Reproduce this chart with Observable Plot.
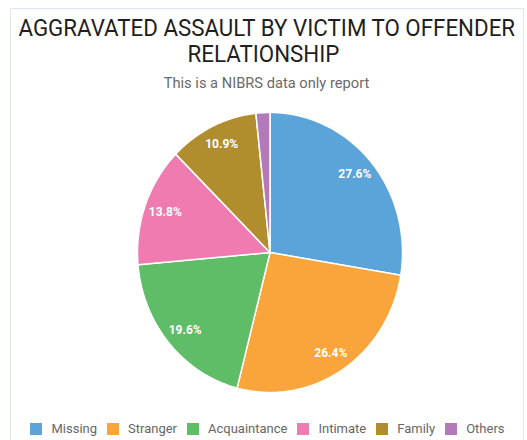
<!DOCTYPE html>
<html>
<head>
<meta charset="utf-8">
<script src="https://cdn.jsdelivr.net/npm/d3@7"></script>
<script src="https://cdn.jsdelivr.net/npm/@observablehq/plot@0.6"></script>
<style>
  html, body { margin: 0; padding: 0; background: #fff; width: 527px; height: 440px; overflow: hidden; font-family: Roboto, "Noto Sans", sans-serif; }
  #card { position: absolute; left: 10px; top: 8px; width: 514px; height: 460px; border: 1px solid #dfe6ee; box-sizing: border-box; }
  .t { position: absolute; left: 0; width: 527px; text-align: center; white-space: nowrap; transform: scaleX(0.93); transform-origin: 263.5px 0; }
  #title1, #title2 { font-size: 24px; line-height: 27px; color: #1f1f22; }
  #title1 { top: 14.6px; }
  #title2 { top: 41.3px; }
  #subtitle { top: 74px; left: 3px; font-size: 15.5px; line-height: 18px; color: #6a6a6a; transform: scaleX(0.946); }
  #chart { position: absolute; left: 0; top: 100px; }
  #legend { position: absolute; left: 4px; top: 420px; width: 527px; display: flex; justify-content: center; align-items: center; font-size: 13px; color: #666; line-height: 18px; }
  .item { display: flex; align-items: center; margin: 0 5px; }
  .sw { width: 12px; height: 12px; margin-right: 9px; }
</style>
</head>
<body>
<div id="card"></div>
<div class="t" id="title1"></div>
<div class="t" id="title2"></div>
<div class="t" id="subtitle"></div>
<div id="chart"></div>
<div id="legend"></div>
<script>
const titleLines = ["AGGRAVATED ASSAULT BY VICTIM TO OFFENDER", "RELATIONSHIP"];
const subtitle = "This is a NIBRS data only report";
const categories = ["Missing", "Stranger", "Acquaintance", "Intimate", "Family", "Others"];
const values = [27.6, 26.4, 19.6, 13.8, 10.9, 1.7];
const colors = ["#5ba4da", "#f9a53b", "#5fbd68", "#ef7bb1", "#b08e2d", "#b27ab9"];
const shownLabels = [true, true, true, true, true, false];

document.getElementById("title1").textContent = titleLines[0];
document.getElementById("title2").textContent = titleLines[1];
document.getElementById("subtitle").textContent = subtitle;

const total = d3.sum(values);
const polys = [];
const labelRows = [];
let cum = 0;
categories.forEach((cat, i) => {
  const a0 = cum / total * 2 * Math.PI;
  cum += values[i];
  const a1 = cum / total * 2 * Math.PI;
  const n = Math.max(2, Math.ceil((a1 - a0) / (Math.PI / 180)));
  polys.push({cat, x: 0, y: 0});
  for (let k = 0; k <= n; k++) {
    const a = a0 + (a1 - a0) * k / n;
    polys.push({cat, x: Math.sin(a), y: Math.cos(a)});
  }
  polys.push({cat, x: 0, y: 0});
  const am = (a0 + a1) / 2;
  if (shownLabels[i]) labelRows.push({cat, x: 0.84 * Math.sin(am), y: 0.86 * Math.cos(am), text: values[i].toFixed(1) + "%"});
});

const plot = Plot.plot({
  width: 527,
  height: 300,
  marginLeft: 137,
  marginRight: 125,
  marginTop: 12,
  marginBottom: 8,
  x: {domain: [-1, 1], axis: null},
  y: {domain: [-1, 1], axis: null},
  color: {domain: categories, range: colors},
  style: {background: "transparent", overflow: "visible"},
  marks: [
    Plot.line(polys, {x: "x", y: "y", z: "cat", fill: "cat", stroke: "white", strokeWidth: 1.5, strokeLinejoin: "round", curve: "linear"}),
    Plot.text(labelRows, {x: "x", y: "y", text: "text", fill: "white", fontSize: 12, fontWeight: "bold", fontFamily: "Roboto, sans-serif"})
  ]
});
document.getElementById("chart").appendChild(plot);

const legend = document.getElementById("legend");
categories.forEach((cat, i) => {
  const it = document.createElement("div");
  it.className = "item";
  const sw = document.createElement("div");
  sw.className = "sw";
  sw.style.background = colors[i];
  const tx = document.createElement("span");
  tx.textContent = cat;
  it.appendChild(sw);
  it.appendChild(tx);
  legend.appendChild(it);
});
</script>
</body>
</html>
